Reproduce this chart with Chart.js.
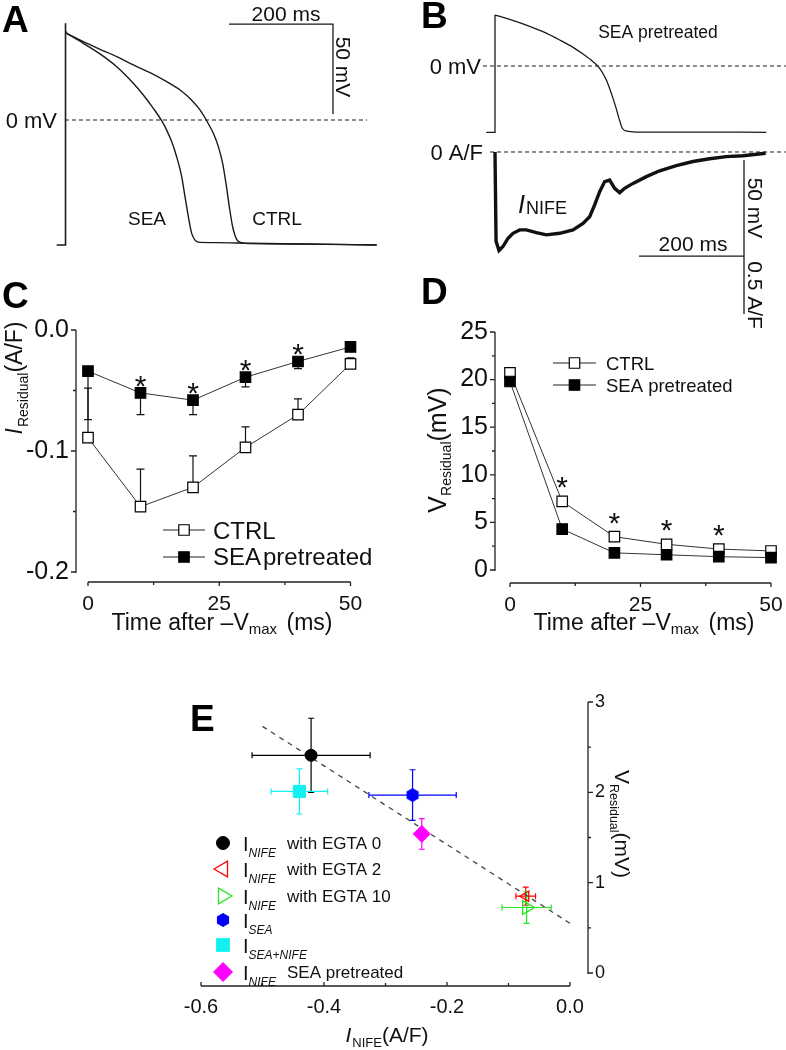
<!DOCTYPE html>
<html>
<head>
<meta charset="utf-8">
<title>Residual current and voltage after SEA</title>
<script src="https://cdn.jsdelivr.net/npm/chart.js@4.4.1/dist/chart.umd.min.js"></script>
<style>
  body { margin: 0; background: #fff; }
  #wrap { position: relative; width: 786px; height: 1050px; }
  #wrap canvas { position: absolute; left: 0; top: 0; }
</style>
</head>
<body>
<div id="wrap">
  <canvas id="chartA" width="786" height="1050"></canvas>
  <canvas id="chartB" width="786" height="1050"></canvas>
  <canvas id="chartC" width="786" height="1050"></canvas>
  <canvas id="chartD" width="786" height="1050"></canvas>
  <canvas id="chartE" width="786" height="1050"></canvas>
</div>
<script>
// ---- A: action potentials (ms, mV) ----
const apUpT = [-16, 0.5, 0.5, 1.5, 3.2];
const apUpV = [-69.4, -69.4, 53.7, 49.5, 48.1];
const apSeaT = [3.2, 35.3, 67.3, 99.4, 131.4, 150.6, 169.9, 185.9, 195.5, 205.1, 214.7, 224.4, 230.8, 237.2, 243.6, 250, 259.6, 291.7, 355.8, 599.4];
const apSeaV = [48.1, 42.6, 36.7, 29.6, 20.4, 13.9, 6.5, -0.4, -5.6, -12.0, -20.4, -31.5, -42.6, -53.7, -63.0, -66.7, -68.0, -68.1, -68.5, -69.4];
const apCtrlT = [3.2, 35.3, 67.3, 99.4, 131.4, 163.5, 195.5, 221.2, 240.4, 259.6, 272.4, 285.3, 294.9, 303.2, 309.6, 316, 322.4, 330.1, 339.7, 362.2, 451.9, 599.4];
const apCtrlV = [48.1, 43.5, 39.3, 35.2, 30.6, 26.3, 21.3, 16.7, 12.0, 5.6, -0.4, -7.4, -14.8, -24.1, -35.2, -48.1, -59.3, -66.3, -68.1, -68.7, -68.9, -69.4];
const zeroAT = [0, 581];
const zeroAV = [0, 0];
const barAT = [315.4, 515.4, 515.4];
const barAV = [53.3, 53.3, 3.3];

// ---- B: SEA pretreated AP and I_NIFE ----
const apBUpT = [-16.5, 0, 0];
const apBUpV = [-69.3, -69.3, 53.3];
const apBT = [0, 27.9, 59.7, 91.4, 123.2, 148.6, 167.6, 186.7, 199.4, 212.1, 221.6, 229.8, 236.2, 242.5, 250.2, 269.2, 377.1, 516.8];
const apBV = [53.3, 48.8, 42.8, 35.9, 27.2, 19.5, 12.5, 4.5, -2.4, -14.6, -28.6, -42.5, -54.7, -65.1, -67.9, -69.0, -69.0, -69.3];
const curT = [0, 2, 7.6, 15.2, 24.8, 34.3, 47, 59.7, 78.7, 97.8, 123.2, 148.6, 167.6, 180.3, 189.8, 199.4, 208.9, 218.4, 227.9, 237.5, 247, 262.9, 288.3, 313.7, 345.4, 377.1, 408.9, 440.6, 472.4, 515.6];
const curI = [0, -0.29, -0.320, -0.307, -0.280, -0.264, -0.253, -0.253, -0.262, -0.269, -0.264, -0.253, -0.232, -0.210, -0.172, -0.129, -0.096, -0.091, -0.118, -0.132, -0.118, -0.102, -0.080, -0.061, -0.044, -0.031, -0.022, -0.015, -0.012, -0.004];
const zeroBVT = [-23, 554];
const zeroBIT = [-9.5, 554];
const zeroB = [0, 0];
const barBHT = [274.3, 474.3];
const barBHI = [-0.338, -0.338];
const barBVT = [474.3, 474.3];
const barBVI = [-0.026, -0.526];

// ---- C: residual current ----
const cTime = [0, 10, 20, 30, 40, 50];
const cCtrl = [-0.089, -0.146, -0.130, -0.097, -0.070, -0.028];
const cCtrlErr = [0.041, 0.031, 0.026, 0.017, 0.013, 0.005];
const cSea = [-0.034, -0.052, -0.058, -0.039, -0.026, -0.014];
const cSeaErr = [0.040, 0.018, 0.012, 0.008, 0.006, 0.002];
const cStars = [10, 20, 30, 40];
const cYTicks = [0, -0.1, -0.2];
const cYLabels = ['0.0', '-0.1', '-0.2'];
const cYMinor = [-0.05, -0.15];

// ---- D: residual voltage ----
const dTime = [0, 10, 20, 30, 40, 50];
const dCtrl = [20.7, 7.2, 3.5, 2.7, 2.2, 2.0];
const dSea = [19.8, 4.3, 1.8, 1.6, 1.4, 1.3];
const dStars = [10, 20, 30, 40];
const dYTicks = [0, 5, 10, 15, 20, 25];
const dYMinor = [2.5, 7.5, 12.5, 17.5, 22.5];

const tTicks = [0, 25, 50];
const tMinor = [12.5, 37.5];

// ---- E: V_Residual vs I_NIFE ----
const eSubs = ['NIFE', 'NIFE', 'NIFE', 'SEA', 'SEA+NIFE', 'NIFE'];
const eNames = ['with EGTA 0', 'with EGTA 2', 'with EGTA 10', '', '', 'SEA pretreated'];
const eCurrent = [-0.421, -0.072, -0.0705, -0.256, -0.440, -0.241];
const eCurrentErr = [0.096, 0.016, 0.040, 0.071, 0.046, 0];
const eVoltage = [2.41, 0.85, 0.725, 1.97, 2.01, 1.54];
const eVoltageErr = [0.41, 0.10, 0.175, 0.28, 0.25, 0.17];
const fitX = [-0.5, 0];
const fitY = [2.73, 0.55];
const eXTicks = [-0.6, -0.4, -0.2, 0];
const eXLabels = ['-0.6', '-0.4', '-0.2', '0.0'];
const eXMinor = [-0.5, -0.3, -0.1];
const eYTicks = [0, 1, 2, 3];
const eYMinor = [0.5, 1.5, 2.5];

// ---------- helpers ----------
const FONT = '"Liberation Sans", Arial, Helvetica, sans-serif';
const f = (size, style) => (style ? style + ' ' : '') + size + 'px ' + FONT;
const xy = (xs, ys) => xs.map((x, i) => ({ x: x, y: ys[i] }));

function runs(ctx, parts, x, y, align) {
  let w = 0;
  parts.forEach(p => { ctx.font = p[1]; w += ctx.measureText(p[0]).width + (p[3] || 0); });
  let cx = align === 'center' ? x - w / 2 : (align === 'right' ? x - w : x);
  ctx.textAlign = 'left';
  ctx.textBaseline = 'alphabetic';
  parts.forEach(p => {
    ctx.font = p[1];
    ctx.fillText(p[0], cx, y + (p[2] || 0));
    cx += ctx.measureText(p[0]).width + (p[3] || 0);
  });
}
function turned(ctx, parts, x, y, angle) {
  ctx.save();
  ctx.translate(x, y);
  ctx.rotate(angle);
  runs(ctx, parts, 0, 0, 'center');
  ctx.restore();
}
function yAxis(ctx, sc, x, major, minor, dir, labels, font, gap) {
  ctx.strokeStyle = '#222';
  ctx.lineWidth = 1.3;
  ctx.beginPath();
  ctx.moveTo(x, sc.getPixelForValue(sc.max));
  ctx.lineTo(x, sc.getPixelForValue(sc.min) + 1);
  major.forEach(v => { const y = sc.getPixelForValue(v); ctx.moveTo(x, y); ctx.lineTo(x + dir * 5, y); });
  minor.forEach(v => { const y = sc.getPixelForValue(v); ctx.moveTo(x, y); ctx.lineTo(x + dir * 3, y); });
  ctx.stroke();
  ctx.fillStyle = '#111';
  ctx.font = font;
  ctx.textBaseline = 'middle';
  ctx.textAlign = dir < 0 ? 'right' : 'left';
  major.forEach((v, i) => ctx.fillText(labels[i], x + dir * gap, sc.getPixelForValue(v)));
}
function xAxis(ctx, sc, y, major, minor, dir, labels, font, base) {
  ctx.strokeStyle = '#222';
  ctx.lineWidth = 1.3;
  ctx.beginPath();
  ctx.moveTo(sc.getPixelForValue(sc.min), y);
  ctx.lineTo(sc.getPixelForValue(sc.max), y);
  major.forEach(v => { const x = sc.getPixelForValue(v); ctx.moveTo(x, y); ctx.lineTo(x, y + dir * 4); });
  minor.forEach(v => { const x = sc.getPixelForValue(v); ctx.moveTo(x, y); ctx.lineTo(x, y + dir * 3); });
  ctx.stroke();
  ctx.fillStyle = '#111';
  ctx.font = font;
  ctx.textBaseline = 'alphabetic';
  ctx.textAlign = 'center';
  major.forEach((v, i) => ctx.fillText(labels[i], sc.getPixelForValue(v), base));
}
function errBars(ctx, chart, xs, ys, xe, ye, dir, color, cap) {
  const sx = chart.scales.x, sy = chart.scales.y;
  ctx.strokeStyle = color;
  ctx.lineWidth = 1.2;
  ctx.beginPath();
  xs.forEach((xv, i) => {
    const px = sx.getPixelForValue(xv), py = sy.getPixelForValue(ys[i]);
    if (ye && ye[i]) {
      const ends = dir === 0 ? [1, -1] : [dir];
      ends.forEach(d => {
        const p1 = sy.getPixelForValue(ys[i] + d * ye[i]);
        ctx.moveTo(px, py); ctx.lineTo(px, p1);
        ctx.moveTo(px - cap, p1); ctx.lineTo(px + cap, p1);
      });
    }
    if (xe && xe[i]) {
      [1, -1].forEach(d => {
        const p1 = sx.getPixelForValue(xv + d * xe[i]);
        ctx.moveTo(px, py); ctx.lineTo(p1, py);
        ctx.moveTo(p1, py - cap); ctx.lineTo(p1, py + cap);
      });
    }
  });
  ctx.stroke();
}
function mark(ctx, st, x, y, r) {
  ctx.save();
  ctx.fillStyle = st.bg;
  ctx.strokeStyle = st.border;
  ctx.lineWidth = st.bw;
  Chart.helpers.drawPoint(ctx, { pointStyle: st.style, radius: r, rotation: st.rot || 0, borderWidth: st.bw }, x, y);
  ctx.restore();
}
function stars(ctx, chart, xs, ys, at, lift) {
  ctx.fillStyle = '#111';
  ctx.font = f(30);
  ctx.textAlign = 'center';
  ctx.textBaseline = 'alphabetic';
  at.forEach(t => {
    const i = xs.indexOf(t);
    const px = chart.scales.x.getPixelForValue(t);
    const py = chart.scales.y.getPixelForValue(ys[i]) - lift;
    ctx.fillText('*', px, py + 17);
  });
}
function hexagon(r, color) {
  const c = document.createElement('canvas');
  c.width = c.height = 2 * r + 2;
  const g = c.getContext('2d');
  g.fillStyle = color;
  g.beginPath();
  for (let i = 0; i < 6; i++) {
    const a = -Math.PI / 2 + i * Math.PI / 3;
    g.lineTo(r + 1 + r * Math.cos(a), r + 1 + r * Math.sin(a));
  }
  g.closePath();
  g.fill();
  return c;
}
function plugin(id, before, after) {
  return {
    id: id,
    beforeDatasetsDraw(chart) { if (before) { chart.ctx.save(); before(chart, chart.ctx); chart.ctx.restore(); } },
    afterDraw(chart) { chart.ctx.save(); after(chart, chart.ctx); chart.ctx.restore(); }
  };
}
function baseOptions(pad, scales) {
  return {
    responsive: false,
    animation: false,
    events: [],
    layout: { padding: pad },
    plugins: { legend: { display: false }, tooltip: { enabled: false } },
    scales: scales
  };
}
const trace = (data, extra) => Object.assign({ data: data, showLine: true, pointRadius: 0, borderColor: '#1a1a1a', borderWidth: 1.4, tension: 0, clip: false }, extra || {});
const letter = (ctx, s, x, y) => { ctx.fillStyle = '#000'; ctx.font = f(37, 'bold'); ctx.textAlign = 'left'; ctx.textBaseline = 'alphabetic'; ctx.fillText(s, x, y); };

// ---------- A ----------
new Chart(document.getElementById('chartA'), {
  type: 'scatter',
  data: { datasets: [
    trace(xy(apUpT, apUpV), { borderWidth: 1.6 }),
    trace(xy(apSeaT, apSeaV), { cubicInterpolationMode: 'monotone' }),
    trace(xy(apCtrlT, apCtrlV), { cubicInterpolationMode: 'monotone' }),
    trace(xy(zeroAT, zeroAV), { borderWidth: 1, borderDash: [4, 3] }),
    trace(xy(barAT, barAV), { borderWidth: 1.3 })
  ] },
  options: baseOptions({ left: 0, top: 0, right: 393, bottom: 780 }, {
    x: { type: 'linear', display: false, min: -125, max: 630.8 },
    y: { type: 'linear', display: false, min: -83.33, max: 66.67 }
  }),
  plugins: [plugin('textA', null, (chart, ctx) => {
    letter(ctx, 'A', 2, 32);
    ctx.fillStyle = '#111';
    runs(ctx, [['0 mV', f(22)]], 57, 128, 'right');
    runs(ctx, [['SEA', f(19)]], 147, 225, 'center');
    runs(ctx, [['CTRL', f(19)]], 277, 225, 'center');
    runs(ctx, [['200 ms', f(21)]], 286, 21, 'center');
    turned(ctx, [['50 mV', f(21)]], 336, 67, Math.PI / 2);
  })]
});

// ---------- B ----------
new Chart(document.getElementById('chartB'), {
  type: 'scatter',
  data: { datasets: [
    trace(xy(apBUpT, apBUpV), { yAxisID: 'yV', borderWidth: 1.3 }),
    trace(xy(apBT, apBV), { yAxisID: 'yV', borderWidth: 1.3, cubicInterpolationMode: 'monotone' }),
    trace(xy(zeroBVT, zeroB), { yAxisID: 'yV', borderWidth: 1, borderDash: [4, 3] }),
    trace(xy(curT, curI), { yAxisID: 'yI', borderWidth: 3.4, borderColor: '#111' }),
    trace(xy(zeroBIT, zeroB), { yAxisID: 'yI', borderWidth: 1, borderDash: [4, 3] }),
    trace(xy(barBHT, barBHI), { yAxisID: 'yI', borderWidth: 1.3 }),
    trace(xy(barBVT, barBVI), { yAxisID: 'yI', borderWidth: 1.3 })
  ] },
  options: baseOptions({ left: 393, top: 0, right: 0, bottom: 720 }, {
    x: { type: 'linear', display: false, min: -194.3, max: 554.3 },
    yV: { type: 'linear', display: false, min: -275.9, max: 69 },
    yI: { type: 'linear', display: false, min: -0.578, max: 0.4935 }
  }),
  plugins: [plugin('textB', null, (chart, ctx) => {
    letter(ctx, 'B', 421, 28);
    ctx.fillStyle = '#111';
    runs(ctx, [['SEA pretreated', f(17.5)]], 658, 38, 'center');
    runs(ctx, [['0 mV', f(22)]], 481, 74, 'right');
    runs(ctx, [['0 A/F', f(22)]], 483, 160, 'right');
    runs(ctx, [['I', f(25, 'italic'), 0, 1], ['NIFE', f(18), 1]], 518, 213, 'left');
    runs(ctx, [['200 ms', f(21)]], 693, 251, 'center');
    turned(ctx, [['50 mV', f(21)]], 748, 208, Math.PI / 2);
    turned(ctx, [['0.5 A/F', f(21)]], 748, 295, Math.PI / 2);
  })]
});

// ---------- C ----------
const sqStyle = { pointStyle: 'rect', pointRadius: 7.4, pointBorderColor: '#000', pointBorderWidth: 1.2, borderColor: '#333', borderWidth: 1 };
new Chart(document.getElementById('chartC'), {
  type: 'scatter',
  data: { datasets: [
    trace(xy(cTime, cSea), Object.assign({}, sqStyle, { pointBackgroundColor: '#000', order: 0 })),
    trace(xy(cTime, cCtrl), Object.assign({}, sqStyle, { pointBackgroundColor: '#fff', order: 1 }))
  ] },
  options: baseOptions({ left: 88, top: 330, right: 435.5, bottom: 478 }, {
    x: { type: 'linear', display: false, min: 0, max: 50 },
    y: { type: 'linear', display: false, min: -0.2, max: 0 }
  }),
  plugins: [plugin('decorC', (chart, ctx) => {
    errBars(ctx, chart, cTime, cCtrl, null, cCtrlErr, 1, '#111', 4);
    errBars(ctx, chart, cTime, cSea, null, cSeaErr, -1, '#111', 4);
  }, (chart, ctx) => {
    letter(ctx, 'C', 2, 308);
    yAxis(ctx, chart.scales.y, 76, cYTicks, cYMinor, -1, cYLabels, f(25), 7);
    xAxis(ctx, chart.scales.x, 582, tTicks, tMinor, 1, tTicks.map(String), f(21), 610);
    ctx.fillStyle = '#111';
    runs(ctx, [['Time after \u2013V', f(23)], ['max', f(15), 4, 3], [' (ms)', f(23)]], 222, 630, 'center');
    turned(ctx, [['I', f(23, 'italic'), 0, 1], ['Residual', f(14), 6], ['(A/F)', f(23)]], 22, 378, -Math.PI / 2);
    stars(ctx, chart, cTime, cSea, cStars, 14);
    // legend
    const st = { style: 'rect', bg: '#fff', border: '#000', bw: 1.2 };
    [[530, '#fff'], [557, '#000']].forEach(r => {
      ctx.strokeStyle = '#222'; ctx.lineWidth = 1.2;
      ctx.beginPath(); ctx.moveTo(163, r[0]); ctx.lineTo(205, r[0]); ctx.stroke();
      mark(ctx, Object.assign({}, st, { bg: r[1] }), 184, r[0], 7.4);
    });
    ctx.fillStyle = '#111';
    runs(ctx, [['CTRL', f(24)]], 213, 539, 'left');
    runs(ctx, [['SEA', f(24), 0, 2], ['pretreated', f(24)]], 213, 565, 'left');
  })]
});

// ---------- D ----------
new Chart(document.getElementById('chartD'), {
  type: 'scatter',
  data: { datasets: [
    trace(xy(dTime, dSea), Object.assign({}, sqStyle, { pointBackgroundColor: '#000', order: 0 })),
    trace(xy(dTime, dCtrl), Object.assign({}, sqStyle, { pointBackgroundColor: '#fff', order: 1 }))
  ] },
  options: baseOptions({ left: 510, top: 332, right: 15, bottom: 480 }, {
    x: { type: 'linear', display: false, min: 0, max: 50 },
    y: { type: 'linear', display: false, min: 0, max: 25 }
  }),
  plugins: [plugin('decorD', null, (chart, ctx) => {
    letter(ctx, 'D', 421, 304);
    yAxis(ctx, chart.scales.y, 495, dYTicks, dYMinor, -1, dYTicks.map(String), f(25), 7);
    xAxis(ctx, chart.scales.x, 583, tTicks, tMinor, 1, tTicks.map(String), f(21), 611);
    ctx.fillStyle = '#111';
    runs(ctx, [['Time after \u2013V', f(23)], ['max', f(15), 4, 3], [' (ms)', f(23)]], 644, 630, 'center');
    turned(ctx, [['V', f(25)], ['Residual', f(14), 5], ['(mV)', f(25)]], 446, 450, -Math.PI / 2);
    stars(ctx, chart, dTime, dCtrl, dStars, 21);
    const st = { style: 'rect', bg: '#fff', border: '#000', bw: 1.2 };
    [[363, '#fff'], [385, '#000']].forEach(r => {
      ctx.strokeStyle = '#222'; ctx.lineWidth = 1.2;
      ctx.beginPath(); ctx.moveTo(553, r[0]); ctx.lineTo(596, r[0]); ctx.stroke();
      mark(ctx, Object.assign({}, st, { bg: r[1] }), 574.5, r[0], 7.4);
    });
    ctx.fillStyle = '#111';
    runs(ctx, [['CTRL', f(18.5)]], 606, 370, 'left');
    runs(ctx, [['SEA pretreated', f(18.5)]], 606, 392, 'left');
  })]
});

// ---------- E ----------
const hexBlue = hexagon(7, '#0000ff');
const eStyle = [
  { style: 'circle', bg: '#000', border: '#000', bw: 1, r: 6, lr: 6.5, color: '#000' },
  { style: 'triangle', rot: -90, bg: 'rgba(0,0,0,0)', border: '#ff0000', bw: 1.3, r: 6, lr: 9, color: '#ff0000' },
  { style: 'triangle', rot: 90, bg: 'rgba(0,0,0,0)', border: '#22e622', bw: 1.3, r: 8, lr: 9, color: '#22e622' },
  { style: hexBlue, bg: '#0000ff', border: '#0000ff', bw: 1, r: 7, lr: 7, color: '#0000ff' },
  { style: 'rect', bg: '#12f0f0', border: '#12f0f0', bw: 1, r: 8.5, lr: 9, color: '#12f0f0' },
  { style: 'rectRot', bg: '#ff00ff', border: '#ff00ff', bw: 1, r: 8.5, lr: 9.5, color: '#ff00ff' }
];
const eSets = eCurrent.map((x, i) => ({
  data: [{ x: x, y: eVoltage[i] }],
  pointStyle: eStyle[i].style,
  rotation: eStyle[i].rot || 0,
  pointRadius: eStyle[i].r,
  pointBackgroundColor: eStyle[i].bg,
  pointBorderColor: eStyle[i].border,
  pointBorderWidth: eStyle[i].bw,
  clip: false
}));
eSets.unshift(trace(xy(fitX, fitY), { borderColor: '#444', borderWidth: 1.3, borderDash: [5, 5], order: 10 }));
new Chart(document.getElementById('chartE'), {
  type: 'scatter',
  data: { datasets: eSets },
  options: baseOptions({ left: 201, top: 702, right: 216, bottom: 77 }, {
    x: { type: 'linear', display: false, min: -0.6, max: 0 },
    y: { type: 'linear', display: false, min: 0, max: 3 }
  }),
  plugins: [plugin('decorE', (chart, ctx) => {
    eCurrent.forEach((x, i) => errBars(ctx, chart, [x], [eVoltage[i]], [eCurrentErr[i]], [eVoltageErr[i]], 0, eStyle[i].color, 3));
  }, (chart, ctx) => {
    letter(ctx, 'E', 190, 731);
    yAxis(ctx, chart.scales.y, 588, eYTicks, eYMinor, 1, eYTicks.map(String), f(18), 7);
    xAxis(ctx, chart.scales.x, 986, eXTicks, eXMinor, -1, eXLabels, f(20), 1013);
    ctx.fillStyle = '#111';
    runs(ctx, [['I', f(21, 'italic'), 0, 1], ['NIFE', f(13), 5], ['(A/F)', f(21)]], 387, 1042, 'center');
    turned(ctx, [['V', f(21)], ['Residual', f(12.5), 5], ['(mV)', f(21)]], 615, 824, Math.PI / 2);
    const rows = [843, 869, 896, 920, 945, 972];
    rows.forEach((y, i) => {
      mark(ctx, eStyle[i], 223, y, eStyle[i].lr);
      ctx.fillStyle = '#111';
      runs(ctx, [['I', f(20)], [eSubs[i], f(12, 'italic'), 6]], 243, y + 8, 'left');
      if (eNames[i]) runs(ctx, [[eNames[i], f(17)]], 287, y + 6, 'left');
    });
  })]
});
</script>
</body>
</html>
